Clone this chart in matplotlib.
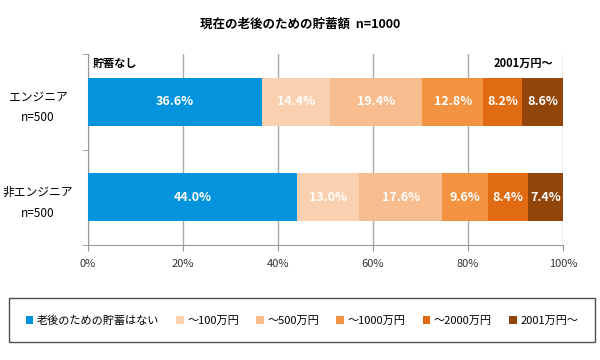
import numpy as np
import matplotlib.pyplot as plt

plt.rcParams['font.family'] = ['Noto Sans CJK JP', 'DejaVu Sans']

groups = ["エンジニア\nn=500", "非エンジニア\nn=500"]
series = ["老後のための貯蓄はない", "～100万円", "～500万円", "～1000万円", "～2000万円", "2001万円～"]
engineer = [36.6, 14.4, 19.4, 12.8, 8.2, 8.6]
non_engineer = [44.0, 13.0, 17.6, 9.6, 8.4, 7.4]
colors = ['#0394dd', '#f9d0b0', '#f8bd8f', '#f29342', '#e06b12', '#914509']

data = np.array([engineer, non_engineer])
ypos = [1, 0]

fig = plt.figure(figsize=(6, 3.6), dpi=100)
ax = fig.add_axes([0.1467, 0.3194, 0.7917, 0.5306])

left = np.zeros(2)
for i, name in enumerate(series):
    vals = data[:, i]
    ax.barh(ypos, vals, left=left, height=0.5, color=colors[i], label=name, zorder=3)
    for y, l, v in zip(ypos, left, vals):
        ax.text(l + v / 2, y, f"{v:.1f}%", ha='center', va='center', color='white',
                fontsize=9, fontweight='bold', zorder=4)
    left += vals

ax.set_xlim(0, 100)
ax.set_ylim(-0.5, 1.5)
ax.set_xticks(range(0, 101, 20))
ax.set_xticklabels([f"{t}%" for t in range(0, 101, 20)], fontsize=8, color='#333333')
ax.set_yticks(ypos)
ax.set_yticklabels(groups, fontsize=8.5, linespacing=1.8, ha='center', multialignment='center')
ax.set_yticks([-0.5, 0.5, 1.5], minor=True)
ax.tick_params(axis='y', which='major', length=0, pad=36)
ax.tick_params(axis='y', which='minor', length=4, color='#999999')
ax.tick_params(axis='x', length=4, color='#999999', pad=6)
ax.grid(axis='x', color='#aaaaaa', linewidth=1, zorder=0)
for s in ['top', 'right']:
    ax.spines[s].set_visible(False)
ax.spines['left'].set_color('#999999')
ax.spines['bottom'].set_color('#999999')

ax.text(1, 1.4, "貯蓄なし", fontsize=8, fontweight='bold', va='center', ha='left')
ax.text(98, 1.4, "2001万円～", fontsize=8, fontweight='bold', va='center', ha='right')

fig.text(0.5, 0.933, "現在の老後のための貯蓄額  n=1000", ha='center', va='center',
         fontsize=9, fontweight='bold')

leg = fig.legend(loc='center', bbox_to_anchor=(0.503, 0.11), ncol=6, fontsize=8,
                 frameon=True, fancybox=False, edgecolor='#222222', handlelength=0.7,
                 handleheight=0.7, handletextpad=0.3, columnspacing=1.55,
                 borderpad=1.5)
leg.get_frame().set_linewidth(1)

fig.savefig('out.png', dpi=100)
